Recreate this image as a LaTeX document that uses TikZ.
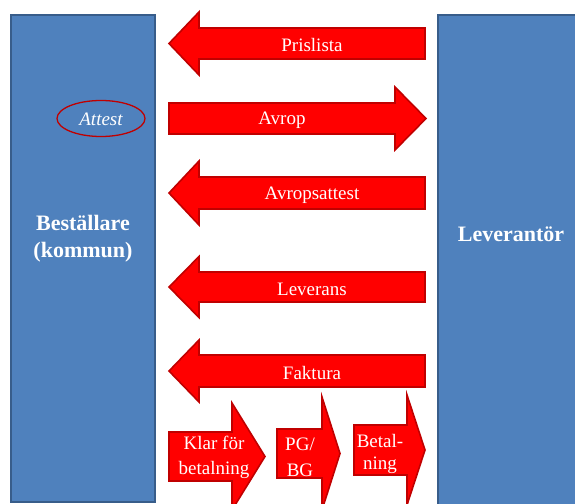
\documentclass[tikz,border=0pt]{standalone}
\usepackage{fontspec}
\setmainfont{Liberation Serif}
\usetikzlibrary{shapes.geometric}
\definecolor{boxfill}{HTML}{4F81BD}
\definecolor{boxline}{HTML}{385D8A}
\definecolor{arrfill}{HTML}{FF0000}
\definecolor{arrline}{HTML}{C00000}
\tikzset{
  column/.style={fill=boxfill,draw=boxline,line width=2pt},
  redarrow/.style={fill=arrfill,draw=arrline,line width=1.6pt,line join=miter},
  arrlabel/.style={text=white,font=\fontsize{19}{22}\selectfont,inner sep=0pt,align=center},
  collabel/.style={text=white,font=\fontsize{22}{27}\selectfont\bfseries,inner sep=0pt,align=center},
}
% left arrow: tipx, tailx, cy, bodyhalf, headhalf, headback
\newcommand{\larrowshape}[6]{%
  \draw[redarrow] (#1,#3) -- (#6,#3-#5) -- (#6,#3-#4) -- (#2,#3-#4) -- (#2,#3+#4) -- (#6,#3+#4) -- (#6,#3+#5) -- cycle;}
% right arrow: tailx, tipx, cy, bodyhalf, headhalf, headback
\newcommand{\rarrowshape}[6]{%
  \draw[redarrow] (#2,#3) -- (#6,#3-#5) -- (#6,#3-#4) -- (#1,#3-#4) -- (#1,#3+#4) -- (#6,#3+#4) -- (#6,#3+#5) -- cycle;}
\begin{document}
\begin{tikzpicture}[x=1pt,y=-1pt]
\useasboundingbox (0,0) rectangle (575,503);
\clip (0,0) rectangle (575,503);
% columns
\draw[column] (11,15) rectangle (155,502);
\draw[column] (438,15) rectangle (600,520);
\node[collabel] (best) at (83,239) {Beställare\\(kommun)};
\node[collabel] (lev) at (511,234.5) {Leverantör};
% attest
\node[draw=arrline,line width=1.3pt,ellipse,minimum width=88pt,minimum height=36pt,inner sep=0pt] (attestell) at (101,118.5) {};
\node[text=white,font=\fontsize{19}{22}\selectfont\itshape,inner sep=0pt] (attest) at (101,119.5) {Attest};
% horizontal arrows
\larrowshape{169}{425}{43.5}{15.5}{31.5}{199}
\node[arrlabel] (pris) at (312,45) {Prislista};
\rarrowshape{169}{426}{118.5}{15.5}{31.5}{395}
\node[arrlabel] (avrop) at (282,120.5) {Avrop};
\larrowshape{169}{425}{193}{16}{32}{199}
\node[arrlabel] (avatt) at (312,195) {Avropsattest};
\larrowshape{169}{425}{287}{15}{30.5}{199}
\node[arrlabel] (leverans) at (312,289) {Leverans};
\larrowshape{169}{425}{371}{16}{31}{199}
\node[arrlabel] (faktura) at (312,373) {Faktura};
% bottom arrows
\rarrowshape{169}{265}{456.5}{24.5}{53.5}{232}
\node[arrlabel,font=\fontsize{19}{25}\selectfont] (klar) at (214,457.5) {Klar för\\betalning};
\rarrowshape{277}{340}{453.5}{24.5}{56.5}{322}
\node[arrlabel,font=\fontsize{19}{26}\selectfont] (pgbg) at (300,457) {PG/\\BG};
\rarrowshape{354}{425}{450}{25}{55}{407}
\node[arrlabel,font=\fontsize{19}{22}\selectfont] (betal) at (380,453.5) {Betal-\\ning};
\end{tikzpicture}
\end{document}
